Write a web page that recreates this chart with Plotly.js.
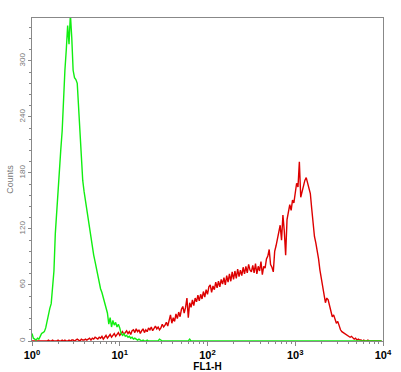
<!DOCTYPE html>
<html>
<head>
<meta charset="utf-8">
<script src="https://cdn.plot.ly/plotly-3.0.1.min.js"></script>
<style>html,body{margin:0;padding:0;background:#fff;}#chart{width:401px;height:372px;}</style>
</head>
<body>
<div id="chart"></div>
<script>
// 256 log channels spanning 10^0 .. 10^4 (64 channels per decade)
const channelsPerDecade = 64;

const greenCounts = [
  8,3,2,1,3,2,5,8,9,10,
  14,22,28,35,40,60,75,115,140,162,
  180,205,225,262,290,312,338,318,350,325,
  290,282,280,276,250,215,195,172,160,150,
  142,127,118,108,100,92,85,77,70,62,
  56,52,46,42,36,30,18,25,15,22,
  17,20,15,18,14,8,6,8,5,6,
  4,5,3,4,2,3,2,1,2,1,
  0,1,0,0,1,0,0,0,0,0,
  0,0,0,2,1,0,0,0,0,0,
  0,0,0,0,0,0,0,0,0,0,
  0,0,0,0,0,2,0,0,0,0,
  0,0,0,0,0,0,0,0,0,0,
  0,0,0,0,0,0,0,0,0,0,
  0,0,0,0,0,0,0,0,0,0,
  0,0,0,0,0,0,0,0,0,0,
  0,0,0,0,0,0,0,0,0,0,
  0,0,0,0,0,0,0,0,0,0,
  0,0,0,0,0,0,0,0,0,0,
  0,0,0,0,0,0,0,0,0,0,
  0,0,0,0,0,0,0,0,0,0,
  0,0,0,0,0,0,0,0,0,0,
  0,0,0,0,0,0,0,0,0,0,
  0,0,0,0,0,0,0,0,0,0,
  0,0,0,0,0,0,0,0,0,0,
  0,0,0,0,0,0
];

const redCounts = [
  0,0,0,0,0,0,0,0,0,0,
  0,0,1,0,0,1,0,0,0,1,
  0,0,1,0,1,0,0,1,0,1,
  1,0,1,2,1,0,2,1,1,2,
  1,2,3,1,3,2,4,3,2,4,
  3,5,2,4,6,3,5,7,4,6,
  8,5,7,9,6,8,10,7,9,11,
  8,10,7,11,12,9,13,10,12,8,
  11,13,9,12,10,14,12,15,11,14,
  16,13,15,12,14,18,15,17,20,16,
  22,28,19,25,21,29,24,31,26,34,
  37,30,36,46,25,41,36,44,38,46,
  42,49,43,50,45,53,47,55,50,58,
  60,52,59,55,63,57,64,58,66,61,
  68,60,70,63,72,64,74,66,75,67,
  77,69,76,70,79,72,80,73,82,76,
  74,81,73,83,72,80,75,85,71,80,
  78,88,91,98,82,79,74,96,102,110,
  118,124,108,135,118,92,130,138,146,140,
  151,148,158,169,165,192,154,160,169,172,
  175,170,165,158,142,126,112,105,97,88,
  76,68,58,50,41,46,44,38,30,26,
  28,22,19,21,15,12,10,9,8,7,
  6,5,4,5,3,2,3,1,2,1,
  1,0,1,0,0,1,0,0,0,0,
  0,0,0,0,0,0
];

const xTickVals = [1, 10, 100, 1000, 10000];
const xTickText = ['10<sup>0</sup>', '10<sup>1</sup>', '10<sup>2</sup>', '10<sup>3</sup>', '10<sup>4</sup>'];
const xMinorVals = [2,3,4,5,6,7,8,9,20,30,40,50,60,70,80,90,200,300,400,500,600,700,800,900,2000,3000,4000,5000,6000,7000,8000,9000];
const yTickVals = [0, 60, 120, 180, 240, 300];
const yTickText = ['0', '60', '120', '180', '240', '300'];

const fl1 = greenCounts.map((_, i) => Math.pow(10, i / channelsPerDecade));

const traces = [
  {x: fl1, y: redCounts, type: 'scatter', mode: 'lines', line: {color: '#dd0000', width: 1.4}, hoverinfo: 'skip'},
  {x: fl1, y: greenCounts, type: 'scatter', mode: 'lines', line: {color: '#11ee11', width: 1.4}, hoverinfo: 'skip'}
];

const layout = {
  width: 401, height: 372,
  margin: {l: 32, r: 18, t: 18, b: 31},
  paper_bgcolor: '#ffffff', plot_bgcolor: '#ffffff',
  showlegend: false,
  xaxis: {
    type: 'log', range: [0, 4],
    tickmode: 'array', tickvals: xTickVals, ticktext: xTickText,
    ticks: 'outside', ticklen: 4, tickcolor: '#888', tickwidth: 1,
    tickfont: {family: 'Liberation Sans, Arial', size: 11, color: '#000', weight: 'bold'},
    showgrid: false, zeroline: false,
    showline: true, linecolor: '#888', linewidth: 1, mirror: true,
    minor: {tickmode: 'array', tickvals: xMinorVals, ticks: 'outside', ticklen: 2, tickcolor: '#888', showgrid: false},
    title: {text: '<b>FL1-H</b>', font: {family: 'Liberation Sans, Arial', size: 10, color: '#000'}, standoff: 0},
    fixedrange: true
  },
  yaxis: {
    range: [0, 346],
    tickmode: 'array', tickvals: yTickVals, ticktext: yTickText,
    ticks: 'outside', ticklen: 3, tickcolor: '#888', tickwidth: 1,
    tickangle: -90,
    tickfont: {family: 'Liberation Sans, Arial', size: 8, color: '#777'},
    showgrid: false, zeroline: false,
    showline: true, linecolor: '#888', linewidth: 1, mirror: true,
    minor: {dtick: 12, ticks: 'outside', ticklen: 2, tickcolor: '#888', showgrid: false},
    title: {text: 'Counts', font: {family: 'Liberation Sans, Arial', size: 9, color: '#777'}, standoff: 2},
    fixedrange: true
  }
};

Plotly.newPlot('chart', traces, layout, {staticPlot: true, displayModeBar: false});
</script>
</body>
</html>
